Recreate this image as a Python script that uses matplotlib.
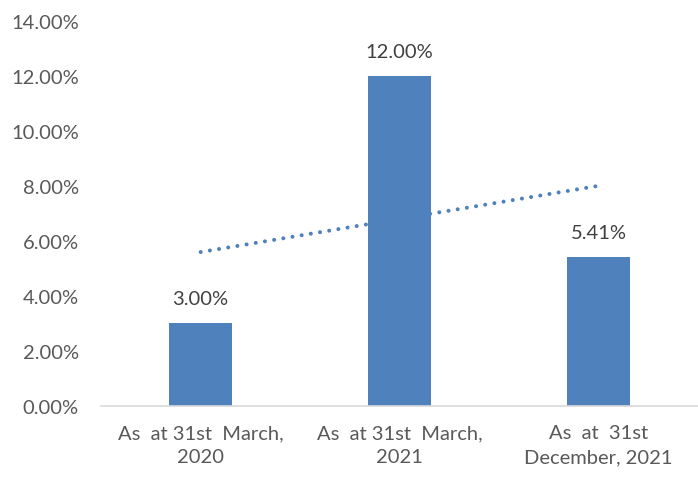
import matplotlib
matplotlib.use("Agg")
import matplotlib.pyplot as plt
import numpy as np

categories = ["As  at 31st  March,\n2020", "As  at 31st  March,\n2021", "As  at  31st\nDecember, 2021"]
values = [3.00, 12.00, 5.41]
yticks = [0, 2, 4, 6, 8, 10, 12, 14]

plt.rcParams['font.family'] = ['Lato', 'DejaVu Sans']

fig = plt.figure(figsize=(6.98, 4.81), dpi=100)
ax = fig.add_axes([0.145, 0.154, 0.855, 0.8])

x = np.arange(len(values))
color = "#4F81BD"
ax.bar(x, values, width=0.315, color=color, zorder=2)

# linear trendline
coef = np.polyfit(x, values, 1)
ax.plot(x[[0, -1]], np.polyval(coef, x[[0, -1]]), linestyle=(0, (0.01, 2.3)),
        color=color, linewidth=2.9, dash_capstyle='round', zorder=3)

for xi, v in zip(x, values):
    ax.text(xi, v + 0.6, f"{v:.2f}%", ha='center', va='bottom', fontsize=14.5, color="#404040")

ax.set_ylim(0, 14)
ax.set_xlim(-0.5, 2.5)
ax.set_yticks(yticks)
ax.set_yticklabels([f"{t:.2f}%" for t in yticks], fontsize=14.5, color="#595959")
ax.set_xticks(x)
ax.set_xticklabels(categories, fontsize=14.5, color="#595959", linespacing=1.5)
ax.tick_params(axis='y', length=0, pad=16)
ax.tick_params(axis='x', length=0, pad=13)
for s in ['top', 'right', 'left']:
    ax.spines[s].set_visible(False)
ax.spines['bottom'].set_color("#D9D9D9")
ax.spines['bottom'].set_linewidth(1.2)

fig.savefig("out.png", dpi=100)
